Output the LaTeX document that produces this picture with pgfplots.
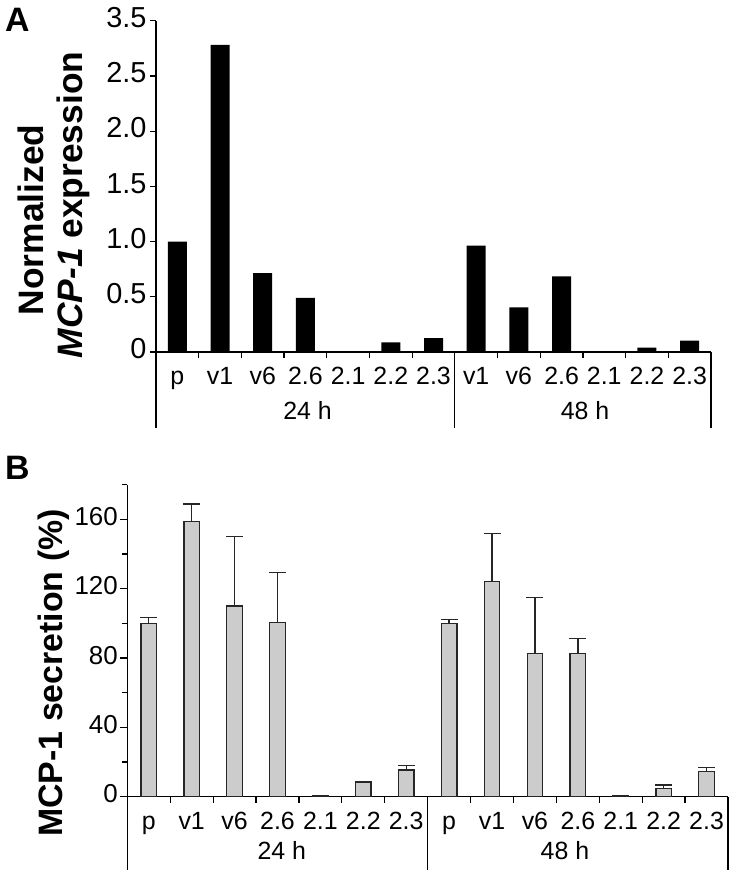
\documentclass[border=0pt]{standalone}
\usepackage{fontspec}
\setmainfont{Liberation Sans}
\usepackage{pgfplots}
\usepackage{pgfplotstable}
\pgfplotsset{compat=1.18}

\definecolor{barfill}{HTML}{CCCCCC}
\definecolor{edge}{HTML}{262626}

% panel A: normalized MCP-1 expression
\pgfplotstableread{
x y
0 1.00
1 2.78
2 0.715
3 0.49
4 0
5 0.088
6 0.125
7 0.963
8 0.403
9 0.685
10 0
11 0.04
12 0.103
}\expr

% panel B: MCP-1 secretion (%), upper error
\pgfplotstableread{
x y ey
0 100 3.2
1 158.6 10.2
2 110 40
3 100.6 28.6
4 0.5 0
5 8.1 0.5
6 15.4 2.5
7 99.8 2.5
8 124 27.9
9 82.7 32.3
10 82.7 8.4
11 0.5 0
12 4.8 1.9
13 14.4 2.6
}\secr

\pgfplotsset{
  common/.style={
    scale only axis,
    axis x line=bottom, axis y line=left,
    axis line style={-, line width=1.2bp, black},
    tick align=outside,
    major tick length=6bp, minor tick length=6bp,
    every tick/.style={line width=1.2bp, black},
    major x tick style={draw=none},
    tick label style={font=\fontsize{25}{30}\selectfont},
    xticklabel style={yshift=-2bp},
    /pgf/number format/assume math mode=true,
    typeset ticklabels with strut,
    clip=false,
  },
}
\tikzset{lbl/.style={font=\fontsize{25}{30}\selectfont, anchor=base}}

\begin{document}
\begin{tikzpicture}
\useasboundingbox (0,0) rectangle (731bp,870bp);

\node[font=\bfseries\fontsize{34}{40}\selectfont, anchor=base west, inner sep=0] at (5bp,838bp) {A};
\node[font=\bfseries\fontsize{34}{40}\selectfont, anchor=base west, inner sep=0] at (5bp,390bp) {B};

\node[font=\bfseries\fontsize{35.5}{40}\selectfont, rotate=90, anchor=base, inner sep=0] at (43bp,650bp) {Normalized};
\node[font=\bfseries\fontsize{35.5}{40}\selectfont, rotate=90, anchor=base, inner sep=0] at (82bp,665bp) {\textit{MCP-1} expression};
\node[font=\bfseries\fontsize{34}{40}\selectfont, rotate=90, anchor=base, inner sep=0] at (62bp,197bp) {MCP-1 secretion (\%)};

\begin{axis}[common,
  at={(156bp,518bp)}, anchor=south west,
  width=555bp, height=331.3bp,
  xmin=-0.5, xmax=12.5, ymin=0, ymax=3,
  xtick={0,...,12},
  xticklabels={p,v1,v6,2.6,2.1,2.2,2.3,v1,v6,2.6,2.1,2.2,2.3},
  minor xtick={0.5,1.5,...,11.5},
  ytick={0,0.5,1,1.5,2,2.5,3},
  yticklabels={0,0.5,1.0,1.5,2.0,2.5,3.5},
  yticklabel style={font=\fontsize{29}{34}\selectfont}]
\addplot[ybar, bar width=19bp, bar shift=0pt, fill=black, draw=none] table[x=x, y=y] {\expr};
\draw[line width=1.2bp] (axis cs:-0.5,0) -- ++(0pt,-76bp);
\draw[line width=1.2bp] (axis cs:6.5,0) -- ++(0pt,-76bp);
\draw[line width=1.2bp] (axis cs:12.5,0) -- ++(0pt,-76bp);
\node[lbl, yshift=-68bp] at (axis cs:3.05,0) {24 h};
\node[lbl, yshift=-68bp] at (axis cs:9.55,0) {48 h};
\end{axis}

\begin{axis}[common,
  at={(127.3bp,73.3bp)}, anchor=south west,
  width=600.7bp, height=312.1bp,
  xmin=-0.5, xmax=13.5, ymin=0, ymax=180,
  xtick={0,...,13},
  xticklabels={p,v1,v6,2.6,2.1,2.2,2.3,p,v1,v6,2.6,2.1,2.2,2.3},
  minor xtick={0.5,1.5,...,12.5},
  ytick={0,40,80,120,160},
  minor ytick={20,60,100,140,180},
  yticklabel style={font=\fontsize{26}{31}\selectfont},
  major y tick style={/pgfplots/major tick length=7bp},
  minor y tick style={/pgfplots/minor tick length=5bp}]
\addplot[ybar, bar width=15.5bp, bar shift=0pt, fill=barfill, draw=edge, line width=1.3bp]
  table[x=x, y=y] {\secr};
% upper error bars from the same table, without the bar handler
\addplot[draw=none, no markers,
  error bars/.cd, y dir=plus, y explicit, error mark=|,
  error bar style={line width=1.4bp, draw=edge, solid},
  error mark options={line width=1.4bp, mark size=8.5bp, draw=edge, solid}]
  table[x=x, y=y, y error=ey] {\secr};
\draw[line width=1.2bp] (axis cs:-0.5,0) -- ++(0pt,-73.3bp);
\draw[line width=1.2bp] (axis cs:6.5,0) -- ++(0pt,-73.3bp);
\draw[line width=1.2bp] (axis cs:13.5,0) -- ++(0pt,-73.3bp);
\node[lbl, yshift=-63bp] at (axis cs:3.1,0) {24 h};
\node[lbl, yshift=-63bp] at (axis cs:9.7,0) {48 h};
\end{axis}
\end{tikzpicture}
\end{document}
